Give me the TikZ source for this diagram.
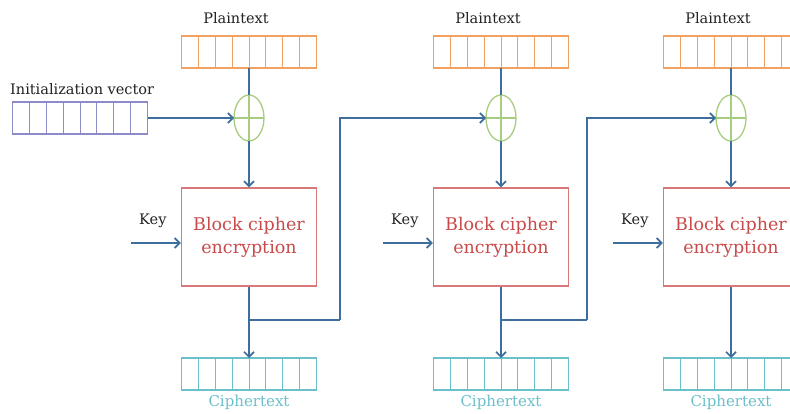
\documentclass[tikz,border=0pt]{standalone}
\usepackage{fontspec}
\setmainfont{DejaVu Serif}
\usetikzlibrary{arrows.meta,shapes.geometric,calc}
\definecolor{ptcol}{HTML}{F0A060}
\definecolor{ivcol}{HTML}{8C8CC8}
\definecolor{xorcol}{HTML}{A8CC80}
\definecolor{arrcol}{HTML}{3E6E9E}
\definecolor{blkcol}{HTML}{D87878}
\definecolor{blktxt}{HTML}{C84A4A}
\definecolor{ctcol}{HTML}{6CC0CC}
\definecolor{lblcol}{HTML}{222222}
\tikzset{
  cellbar/.style={draw=#1, line width=1.3pt, minimum width=135pt, minimum height=32pt, inner sep=0pt, outer sep=0pt},
  xorbox/.style={ellipse, draw=xorcol, line width=1.3pt, minimum width=30pt, minimum height=46pt, inner sep=0pt, outer sep=0pt},
  blkbox/.style={draw=blkcol, line width=1.3pt, minimum width=135pt, minimum height=98pt, inner sep=0pt, align=center, text=blktxt, font=\fontsize{17.5}{23}\selectfont},
  lbl/.style={text=lblcol, font=\fontsize{14.5}{16}\selectfont, inner sep=0pt},
  ctlbl/.style={text=ctcol, font=\fontsize{15}{16}\selectfont, inner sep=0pt},
  conn/.style={draw=arrcol, line width=1.4pt},
  arr/.style={conn, -{Straight Barb[length=5pt,width=10pt,line width=1.7pt]}},
}
\newcommand{\celldiv}[2]{%
  \foreach \k in {1,...,7}{\draw[#2, line width=1pt] ($(#1.north west)!\k/8!(#1.north east)$) -- ($(#1.south west)!\k/8!(#1.south east)$);}}
\begin{document}
\begin{tikzpicture}[x=1pt,y=-1pt]
\clip (0,0) rectangle (790,414);
\fill[white] (0,0) rectangle (790,414);
% IV
\node[cellbar=ivcol] (iv) at (80,118) {};
\celldiv{iv}{ivcol}
\node[lbl, anchor=west] (ivl) at (10,89) {Initialization vector};
% columns
\foreach \c/\i in {249/1,501/2,731/3}{
  \node[cellbar=ptcol] (pt\i) at (\c,52) {};
  \node[lbl] (ptl\i) at (\c-13,18) {Plaintext};
  \node[xorbox] (x\i) at (\c,118) {};
  \node[blkbox] (b\i) at (\c,237) {Block cipher\\encryption};
  \node[cellbar=ctcol] (ct\i) at (\c,374) {};
  \node[ctlbl] (ctl\i) at (\c,402) {Ciphertext};
  \coordinate (k\i) at ($(b\i.west)+(-50,6)$);
  \node[lbl] (kl\i) at ($(b\i.west)+(-28,-16)$) {Key};
}
\foreach \i in {1,2,3}{
  \celldiv{pt\i}{ptcol}
  \celldiv{ct\i}{ctcol}
  \draw[xorcol, line width=1.1pt] (x\i.north) -- (x\i.south) (x\i.west) -- (x\i.east);
  \draw[conn] (pt\i.south) -- (x\i.north);
  \draw[arr] (x\i.south) -- (b\i.north);
  \draw[arr] (b\i.south) -- (ct\i.north);
  \draw[arr] (k\i) -- (k\i -| b\i.west);
}
\draw[arr] (iv.east) -- (x1.west);
\coordinate (j1) at (249,320);
\coordinate (t1) at (340,320);
\coordinate (j2) at (501,320);
\coordinate (t2) at (587,320);
\draw[conn] (j1) -- (t1);
\draw[arr] (t1) |- (x2.west);
\draw[conn] (j2) -- (t2);
\draw[arr] (t2) |- (x3.west);
\end{tikzpicture}
\end{document}
